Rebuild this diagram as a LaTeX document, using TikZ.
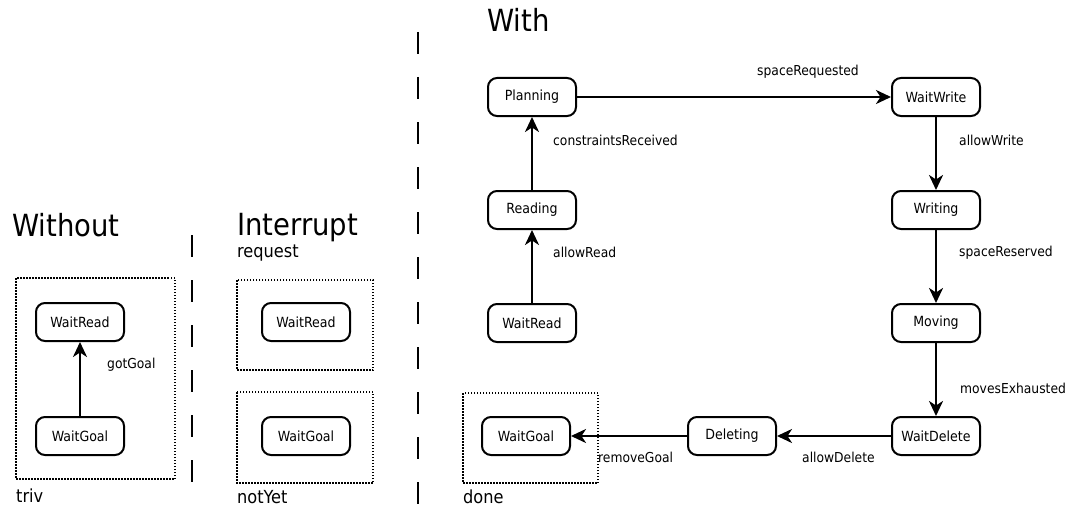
\documentclass[tikz,border=0pt]{standalone}
\usepackage{fontspec}
\setmainfont{DejaVu Sans Condensed}
\usetikzlibrary{arrows.meta}
\begin{document}
\begin{tikzpicture}[x=1pt,y=-1pt,
  state/.style={draw, line width=2pt, rounded corners=9pt, minimum width=88pt,
    minimum height=38pt, inner sep=0pt, font=\fontsize{14}{16}\selectfont},
  trans/.style={draw, line width=2.3pt, -{Stealth[length=15pt,width=14pt,inset=4.5pt]}},
  lbl/.style={anchor=west, inner sep=0pt, font=\fontsize{13.7}{16}\selectfont},
  title/.style={anchor=base west, inner sep=0pt, font=\fontsize{30.5}{34}\selectfont},
  tag/.style={anchor=base west, inner sep=0pt, font=\fontsize{18}{20}\selectfont},
  group/.style={draw, line width=1.8pt, dash pattern=on 1.5pt off 1.5pt},
  divider/.style={draw, line width=2.5pt, dash pattern=on 22pt off 23pt}]

\useasboundingbox (0,0) rectangle (1074,511);

% ---- Without ----
\node[title] (t_without) at (12,236) {Without};
\draw[group] (16,278) rectangle (175,479);
\node[state] (wo_read) at (80,322) {WaitRead};
\node[state] (wo_goal) at (80,436) {WaitGoal};
\draw[trans] (wo_goal) -- (wo_read);
\node[lbl] (l_gotgoal) at (107,365) {gotGoal};
\node[tag] (t_triv) at (16,502) {triv};

\coordinate (d1a) at (192,235);
\coordinate (d1b) at (192,483);
\draw[divider] (d1a) -- (d1b);

% ---- Interrupt ----
\node[title] (t_interrupt) at (237,235) {Interrupt};
\node[tag] (t_request) at (237,257) {request};
\draw[group] (237,280) rectangle (373,370);
\node[state] (in_read) at (306,322) {WaitRead};
\draw[group] (237,392) rectangle (373,483);
\node[state] (in_goal) at (306,436) {WaitGoal};
\node[tag] (t_notyet) at (237,503) {notYet};

\coordinate (d2a) at (418,32);
\coordinate (d2b) at (418,504);
\draw[divider] (d2a) -- (d2b);

% ---- With ----
\node[title] (t_with) at (487,32) {With};
\node[state] (planning)   at (532,97)  {Planning};
\node[state] (reading)    at (532,210) {Reading};
\node[state] (w_read)     at (532,323) {WaitRead};
\node[state] (waitwrite)  at (936,97)  {WaitWrite};
\node[state] (writing)    at (936,210) {Writing};
\node[state] (moving)     at (936,323) {Moving};
\node[state] (waitdelete) at (936,436) {WaitDelete};
\node[state] (deleting)   at (732,436) {Deleting};
\draw[group] (463,393) rectangle (598,483);
\node[state] (w_goal)     at (526,436) {WaitGoal};
\node[tag] (t_done) at (463,503) {done};

\draw[trans] (w_read) -- (reading);
\draw[trans] (reading) -- (planning);
\draw[trans] (planning) -- (waitwrite);
\draw[trans] (waitwrite) -- (writing);
\draw[trans] (writing) -- (moving);
\draw[trans] (moving) -- (waitdelete);
\draw[trans] (waitdelete) -- (deleting);
\draw[trans] (deleting) -- (w_goal);

\node[lbl] (l_allowread)   at (553,252) {allowRead};
\node[lbl] (l_constraints) at (553,140) {constraintsReceived};
\node[lbl] (l_spacereq)    at (757,72)  {spaceRequested};
\node[lbl] (l_allowwrite)  at (959,140) {allowWrite};
\node[lbl] (l_spaceres)    at (959,253) {spaceReserved};
\node[lbl] (l_moves)       at (960,388) {movesExhausted};
\node[lbl] (l_allowdelete) at (802,457) {allowDelete};
\node[lbl] (l_removegoal)  at (598,457) {removeGoal};
\end{tikzpicture}
\end{document}
